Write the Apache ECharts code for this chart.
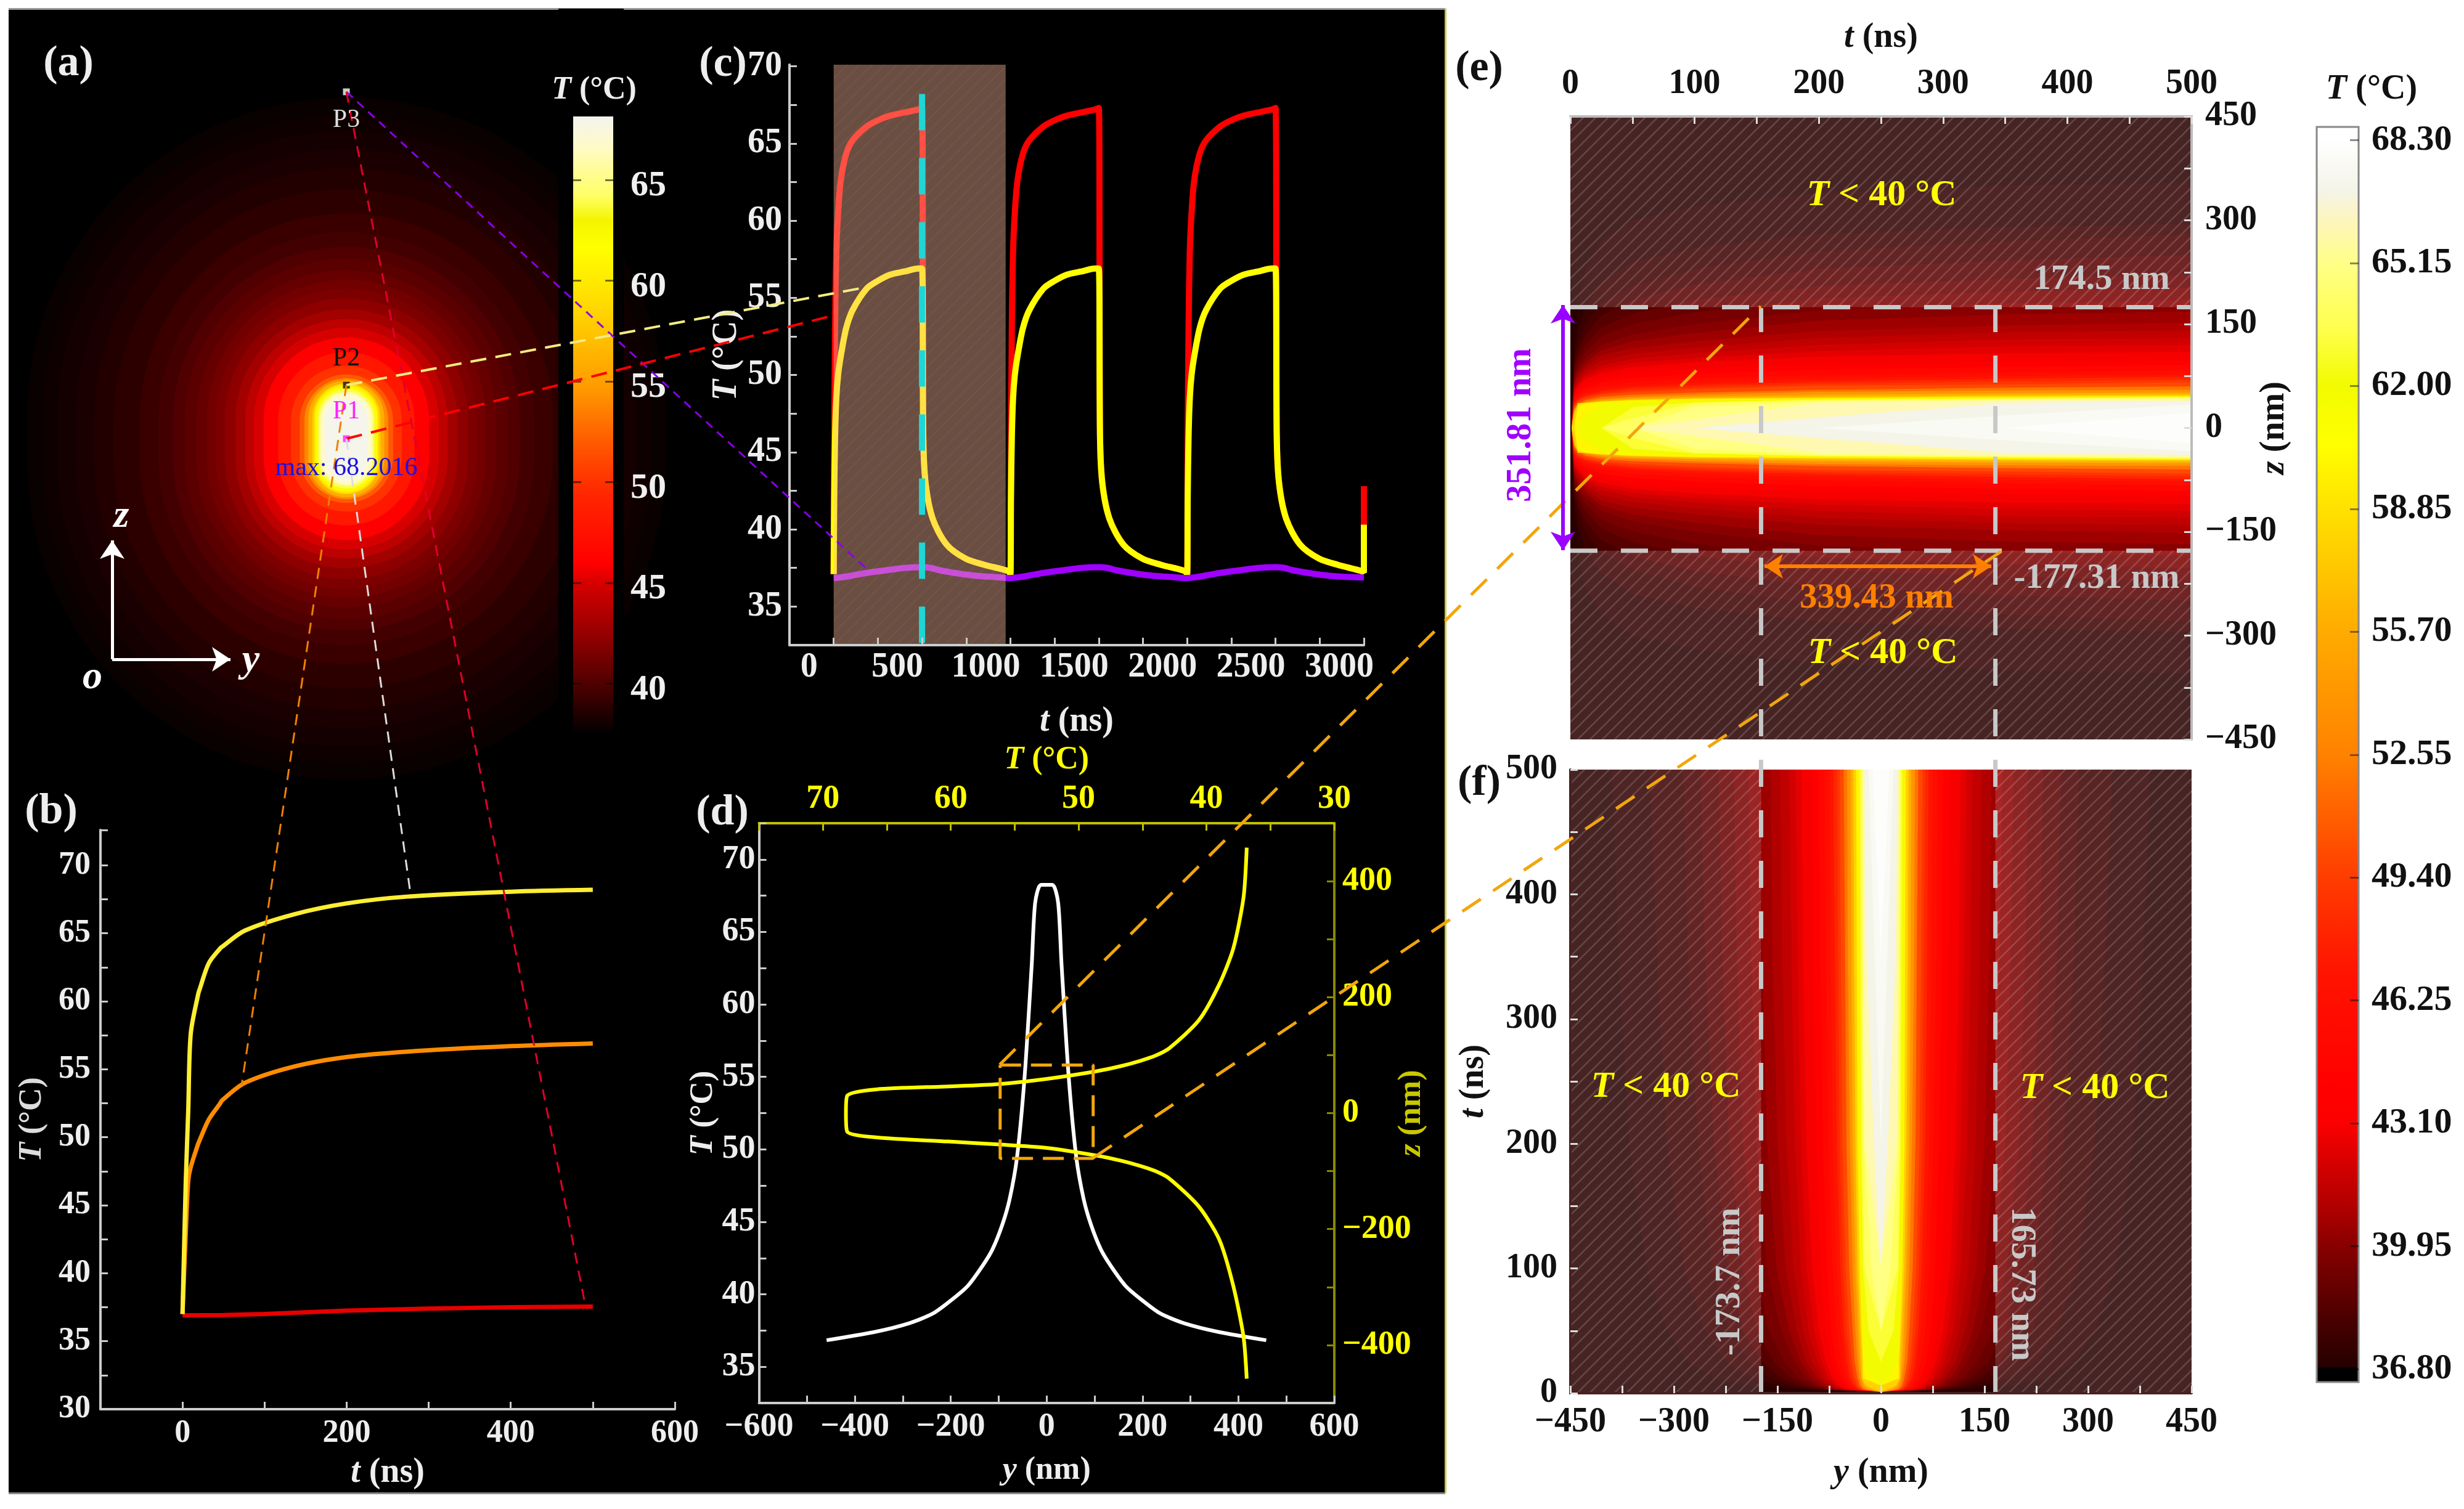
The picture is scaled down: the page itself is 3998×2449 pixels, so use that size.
<!DOCTYPE html>
<html><head><meta charset="utf-8">
<style>html,body{margin:0;padding:0;background:#fff}#c{width:3998px;height:2449px}</style>
<script src="https://cdn.jsdelivr.net/npm/echarts@6/dist/echarts.min.js"></script>
</head><body><div id="c"></div>
<script>
// ---------- DATA: panel (b)
const bTime   = [0,4,7,10,19,21,32,46,48,76,136,200,274,400,500];
const bYellow = [37,46.8,52,57.6,60.5,60.9,62.8,63.9,64.0,65.2,66.4,67.2,67.7,68.06,68.2];
const bOrange = [37,43,46.8,47.8,49.5,49.8,51.3,52.5,52.7,54,55.2,55.9,56.3,56.7,56.9];
const bRedT   = [0,50,100,200,300,400,500];
const bRed    = [36.9,36.92,37.0,37.25,37.4,37.5,37.55];
// ---------- DATA: panel (c), one 1000 ns cycle and its end
const cPulseT   = [0,3,8,15,25,40,70,107,187,250,320,400,480,500,507,520,560,640,747,853,987];
const cRedPulse = [37.1,45,53,58,60.5,62.6,64.3,65.2,66.1,66.5,66.8,67,67.2,67.3,46,43,40.7,39,38.1,37.7,37.3];
const cYelPulse = [37.1,42,46,48.5,50,51.2,53,54.2,55.6,56.1,56.5,56.7,56.9,56.9,46,43,40.7,39,38.1,37.7,37.3];
const cCycleStarts = [0,1000,2000];
const cEndRed = [37.2,42.8];
const cEndYel = [37.2,40.3];
const cPurpleT = [0,50,100,200,300,400,500,550,600,700,800,900];
const cPurple  = [36.85,36.9,37.0,37.2,37.35,37.5,37.55,37.5,37.35,37.15,37.0,36.92];
const cBandEnd = 973;
// ---------- DATA: panel (d)
const dY      = [-459,-359,-287,-236,-195,-164,-133,-113,-92,-77,-62,-46,-31,-24,-12,12,24,31,46,62,77,92,113,133,164,195,236,287,359,458];
const dWhiteT = [36.83,37.4,38,38.7,39.7,40.6,42,43.1,44.85,46.6,49.4,55,62.8,67,68.25,68.25,67,62.8,55,49.4,46.6,44.85,43.1,42,40.6,39.7,38.7,38,37.4,36.83];
const dYellowT= [36.85,37.1,37.9,39,40.6,42.9,44,45.2,46.7,48.65,52.5,56.3,60.2,65.8,68.1,68.2,68.1,65.8,60.2,56.3,52.5,48.65,46.7,45.2,44,42.9,40.6,39,37.9,37.1,36.85];
const dYellowZ= [458,372,284,222,160,112,99,90,81,72,59,50,46,41,30,0,-32,-42,-49,-54,-60,-73,-82,-91,-100,-113,-161,-218,-298,-386,-458];
const dBoxY = [-97,97,97,-97,-97];
const dBoxZ = [83,83,-78,-78,83];
// ---------- DATA: colour scales
const heatValues = [36.8,36.85,36.88,38.15,38.87,39.95,40.8,41.85,43.1,44,47,49.4,52.55,55.7,58.85,60.5,62,63.5,65.15,66.3,67,68.3];
const heatColors = ['#000000','#000000','#260000','#4b0000','#640000','#870000','#aa0000','#cd0000','#fa0000','#ff0000','#ff1400','#ff3c00','#ff8200','#ffab00','#ffe100','#ffff00','#f2fb00','#ffff50','#ffff88','#fdf5c0','#f4f4e8','#ffffff'];
const aHeatValues = [37.6,38.5,40,42.5,45,46,49.5,52,54.5,57,59.3,61.7,63,64.2,66.7,68.2];
const aHeatColors = ['#060000','#200000','#500000','#960000','#d70000','#ff0000','#ff2800','#ff5a00','#ff9600','#ffbe00','#ffe100','#ffff00','#f4f400','#ffff64','#fffac8','#f4f4f0'];
// ---------- DATA: panel (a), filled contours: level, half-width in y, half-height in z (nm)
const aLevels = [37.7,37.9,38.1,38.3,38.6,38.9,39.3,39.6,40,40.4,40.8,41.2,41.6,42.2,43,44,45,46,48,50,52,54,56,58,60,62,64,66,67,68];
const aHalfY  = [328,313,297,278,259,239,212,193,178,166,154,143,134,125,114,104,95,85,70,57,48,43,39,35,33,32,29,27,25,22];
const aHalfZ  = [350,332,316,297,278,256,231,212,197,185,173,163,154,144,133,123,114,104,89,75,66,62,60,57,56,54,51,48,46,41];
// ---------- DATA: panels (e), (f), filled contours: half-width at each time
const tStations = [3,6,12,25,50,100,200,350,500];
const efLevels  = [37.2,37.6,38,38.5,39,39.5,40,40.5,41,41.5,42,42.5,43,44,45,46,47,48,49,50,52,54,56,58,60,62,63,64,65,66,67,67.7,68.1];
const eHalfZ = [
[120,180,230,270,300,320,340,350,355],[105,140,175,210,240,260,280,290,295],[95,120,150,180,205,230,255,270,280],
[88,110,135,162,185,207,230,242,250],[80,100,120,145,165,185,205,215,222],[75,92,110,132,150,167,187,197,203],
[70,85,100,120,135,150,170,180,185],[66,80,94,112,125,137,155,164,168],[62,75,88,105,115,125,140,148,152],
[58,70,83,97,107,116,130,138,141],[55,65,78,90,100,108,120,128,130],[52,62,74,85,94,101,111,118,120],
[50,60,70,80,88,95,103,108,110],[45,55,63,72,80,86,92,96,98],
[42,50,58,66,72,78,84,88,91],[40,47,54,60,66,71,76,80,83],[37,44,50,56,61,66,71,75,78],
[35,42,47,53,58,62,67,71,74],[33,40,45,50,55,59,64,67,70],[31,38,43,48,52,56,61,63,66],
[28,35,40,45,48,51,55,58,60],[26,33,38,42,45,48,52,54,55],[24,32,36,40,43,45,48,50,51],
[20,36,36,38,41,43,45,47,48],[0,33,36,38,40,42,43,45,46],[0,0,20,34,37,39,42,44,45.5],
[0,0,0,0,30,37,41,43,45],[0,0,0,0,14,36,40,42,44],[0,0,0,0,0,30,39,41,43],
[0,0,0,0,0,12,36,40,42],[0,0,0,0,0,0,15,36,39],[0,0,0,0,0,0,0,18,34],[0,0,0,0,0,0,0,0,22]];
const fHalfY = [
[130,190,240,280,310,340,365,380,390],[110,150,185,225,255,285,310,325,335],[100,130,160,190,220,245,265,280,287],
[90,117,145,172,200,222,242,255,261],[82,105,130,155,180,200,220,230,235],[77,97,119,140,162,182,200,209,213],
[72,90,108,125,145,165,180,188,192],[67,84,100,116,133,151,165,172,176],[62,78,92,108,122,138,150,157,160],
[58,73,86,100,113,127,137,143,146],[55,68,80,92,105,116,125,130,133],[52,64,75,86,97,108,116,121,124],
[50,60,70,80,90,100,108,113,115],[45,55,63,72,80,88,94,98,100],
[42,50,57,65,72,78,84,88,90],[38,46,52,58,64,70,76,80,82],[35,42,48,53,58,64,70,73,75],
[33,39,45,49,54,59,64,67,69],[31,36,41,45,50,55,60,62,64],[29,34,38,42,46,51,56,58,60],
[26,31,34,38,41,46,50,52,54],[23,28,31,34,37,41,45,48,49],[18,25,28,31,33,37,41,43,44],
[10,22,28,28,30,34,37,39,40],[0,0,26,26,28,31,34,35,36],[0,0,15,24,26,29,31,32,32.5],
[0,0,0,0,18,26,29,30,31],[0,0,0,0,0,24,27,28,29],[0,0,0,0,0,14,25,26,27],
[0,0,0,0,0,0,23,25,26],[0,0,0,0,0,0,10,21,24],[0,0,0,0,0,0,0,9,18],[0,0,0,0,0,0,0,0,12]];
const eBoundZ = [174.5,-177.31];
const fBoundY = [-173.7,165.73];
// ---------- DATA: ticks
const aBarLabels = [40,45,50,55,60,65];
const bXTicks=[-100,0,100,200,300,400,500,600], bXLabels=[0,200,400,600];
const bYTicks=[30,32.5,35,37.5,40,42.5,45,47.5,50,52.5,55,57.5,60,62.5,65,67.5,70,72.6], bYLabels=[30,35,40,45,50,55,60,65,70];
const cXTicks=[0,250,500,750,1000,1250,1500,1750,2000,2250,2500,2750,3000], cXLabels=[0,500,1000,1500,2000,2500,3000];
const cYTicks=[32.5,35,37.5,40,42.5,45,47.5,50,52.5,55,57.5,60,62.5,65,67.5,70], cYLabels=[35,40,45,50,55,60,65,70];
const dXTicks=[-600,-500,-400,-300,-200,-100,0,100,200,300,400,500,600], dXLabels=[-600,-400,-200,0,200,400,600];
const dYTicks=[32.5,35,37.5,40,42.5,45,47.5,50,52.5,55,57.5,60,62.5,65,67.5,70,72.5], dYLabels=[35,40,45,50,55,60,65,70];
const dTopTicks=[30,35,40,45,50,55,60,65,70,75], dTopLabels=[30,40,50,60,70];
const dRightTicks=[-400,-300,-200,-100,0,100,200,300,400], dRightLabels=[-400,-200,0,200,400];
const eXTicks=[0,50,100,150,200,250,300,350,400,450,500], eXLabels=[0,100,200,300,400,500];
const eYTicks=[-450,-375,-300,-225,-150,-75,0,75,150,225,300,375,450], eYLabels=[-450,-300,-150,0,150,300,450];
const fYTicks=[0,50,100,150,200,250,300,350,400,450,500], fYLabels=[0,100,200,300,400,500];
const fXTicks=eYTicks, fXLabels=eYLabels;
const sideBarLabels=[36.8,39.95,43.1,46.25,49.4,52.55,55.7,58.85,62,65.15,68.3];

// ---------- layout and styles (page pixels)
const W=3998,H=2449, SERIF='Liberation Serif';
const BOX={
  map:{left:9,top:127,width:1106,height:1170},
  aBar:{left:930,top:189,width:65,height:999},
  b:{left:163,top:1347,width:932,height:940},
  c:{left:1281,top:105,width:932,height:942},
  d:{left:1231.5,top:1336,width:933.5,height:941},
  e:{left:2548,top:189,width:1008,height:1011},
  f:{left:2548,top:1249,width:1008,height:1012},
  side:{left:3759,top:206,width:68,height:2037}
};
const guideLines=[
 {c:[[562,149],[1406,923]],color:'#8a00e8',width:3,dash:[14,10]},
 {c:[[562,149],[950,2120]],color:'#e0002a',width:3,dash:[18,12]},
 {c:[[562,625],[1406,466]],color:'#f2ec80',width:4,dash:[26,15]},
 {c:[[562,712],[1352,512]],color:'#ff0000',width:4,dash:[26,15]},
 {c:[[562,625],[392,1762]],color:'#f08000',width:3,dash:[18,12]},
 {c:[[562,712],[665,1443]],color:'#dddddd',width:3,dash:[18,12]},
 {c:[[1622,1728],[2857,497]],color:'#f2a60c',width:5,dash:[36,24]},
 {c:[[1774,1879],[3247,895]],color:'#f2a60c',width:5,dash:[36,24]}
];
const arrowLines=[
 {c:[[182,1070],[182,877]],color:'#fff',width:5},
 {c:[[182,1070],[374,1070]],color:'#fff',width:5},
 {c:[[2536,680],[2536,495]],color:'#9900ff',width:6},
 {c:[[2536,680],[2536,893]],color:'#9900ff',width:6},
 {c:[[3045,919],[3231,919]],color:'#ff8000',width:6},
 {c:[[3045,919],[2863,919]],color:'#ff8000',width:6}
];

// ---------- helpers
function makeHeat(vals,cols){
  const p=h=>[1,3,5].map(k=>parseInt(h.substr(k,2),16));
  return T=>{
    let i=0; while(i<vals.length-2 && T>vals[i+1]) i++;
    const f=Math.max(0,Math.min(1,(T-vals[i])/(vals[i+1]-vals[i])));
    const a=p(cols[i]),b=p(cols[i+1]);
    return 'rgb('+a.map((v,k)=>Math.round(v+(b[k]-v)*f)).join(',')+')';
  };
}
const heat=makeHeat(heatValues,heatColors), aHeat=makeHeat(aHeatValues,aHeatColors);
function hatch(fill,line,n){
  const cv=document.createElement('canvas');cv.width=cv.height=n;
  const x=cv.getContext('2d');
  x.fillStyle=fill;x.fillRect(0,0,n,n);
  x.strokeStyle='rgba(255,255,255,'+line+')';x.lineWidth=2.5;
  x.beginPath();x.moveTo(-2,n+2);x.lineTo(n+2,-2);x.moveTo(-2,2);x.lineTo(2,-2);x.moveTo(n-2,n+2);x.lineTo(n+2,n-2);x.stroke();
  return {image:cv,repeat:'repeat'};
}
const grids=[],xAxes=[],yAxes=[],series=[];
function grid(b){grids.push(Object.assign({show:false,containLabel:false},b));return grids.length-1;}
function nameTS(color,fs){
  const base={color,fontFamily:SERIF,fontWeight:'bold',fontSize:fs};
  return Object.assign({},base,{rich:{i:Object.assign({},base,{fontStyle:'italic'})}});
}
const fmtNum=v=>String(v).replace('-','\u2212');
function axis(list,g,o){
  const a={type:'value',gridIndex:g,min:o.min,max:o.max,position:o.pos,inverse:!!o.inverse,z:5,
    splitLine:{show:false},
    axisLine:{show:o.line!==false,onZero:false,lineStyle:{color:o.lineColor||'#ccc',width:o.lineWidth||4}},
    axisTick:{show:!!o.ticks,inside:true,length:o.tickLen||12,customValues:o.ticks,lineStyle:{color:o.tickColor||o.lineColor||'#ccc',width:3}},
    axisLabel:{show:!!o.labels,customValues:o.labels,margin:o.margin==null?12:o.margin,color:o.color||'#eee',fontFamily:SERIF,fontWeight:'bold',fontSize:o.fs||54,
      formatter:o.fmt||fmtNum,padding:o.padding||0,hideOverlap:false,rich:o.rich}};
  if(o.name){a.name=o.name;a.nameLocation='middle';a.nameGap=o.nameGap;a.nameTextStyle=nameTS(o.nameColor||o.color||'#eee',o.nameFs||56);if(o.nameRotate!=null)a.nameRotate=o.nameRotate;if(o.nameFree)a.nameMoveOverlap=false;}
  if(o.hidden){a.show=false;}
  list.push(a);return list.length-1;
}
function hiddenAxes(g,xr,yr,inv){
  return {x:axis(xAxes,g,{min:xr[0],max:xr[1],pos:'bottom',hidden:true}),y:axis(yAxes,g,{min:yr[0],max:yr[1],pos:'left',hidden:true,inverse:inv})};
}
function line(ax,ay,xs,ys,color,width,extra){
  series.push(Object.assign({type:'line',xAxisIndex:ax,yAxisIndex:ay,data:xs.map((v,i)=>[v,ys[i]]),showSymbol:false,symbol:'none',silent:true,
    lineStyle:{color,width},z:2,animation:false},extra||{}));
}
function rects(ax,ay,data,fill,z,stroke){
  series.push({type:'custom',xAxisIndex:ax,yAxisIndex:ay,data,z,silent:true,animation:false,clip:false,
    encode:{x:[0,1],y:[2,3]},
    renderItem:(p,api)=>{
      const a=api.coord([api.value(0),api.value(2)]),b=api.coord([api.value(1),api.value(3)]);
      const style={fill}; if(stroke){style.stroke=stroke;style.lineWidth=3;}
      return {type:'rect',shape:{x:Math.min(a[0],b[0]),y:Math.min(a[1],b[1]),width:Math.abs(a[0]-b[0]),height:Math.abs(a[1]-b[1])},style};
    }});
}
function contourBand(levels,table,toPoint,ax,ay){
  series.push({type:'custom',xAxisIndex:ax,yAxisIndex:ay,data:levels.map((T,i)=>[i,T]),z:1,silent:true,animation:false,clip:true,
    encode:{x:[],y:[]},
    renderItem:(p,api)=>{
      const i=api.value(0),row=table[i],up=[],dn=[];
      let first=row.findIndex(v=>v>0);
      const tip=first>0?tStations[first-1]:1;
      for(let k=first;k<row.length;k++){up.push(toPoint(tStations[k],row[k]));dn.unshift(toPoint(tStations[k],-row[k]));}
      const pts=[toPoint(tip,0)].concat(up,dn).map(q=>api.coord(q));
      return {type:'polygon',shape:{points:pts},style:{fill:heat(levels[i])}};
    }});
}
function gradientFor(lo,hi,fn,vals){
  const stops=[{offset:0,color:fn(lo)}];
  vals.forEach(v=>{if(v>lo&&v<hi)stops.push({offset:(v-lo)/(hi-lo),color:fn(v)});});
  stops.push({offset:1,color:fn(hi)});
  return {type:'linear',x:0,y:1,x2:0,y2:0,colorStops:stops};
}

// ---------- overlay grid in page pixels, for the backdrop and leader annotations
const gPx=grid({left:0,top:0,width:W,height:H});
const px=hiddenAxes(gPx,[0,W],[0,H],true);
function pxRect(box,z){
  series.push({type:'custom',xAxisIndex:px.x,yAxisIndex:px.y,data:[box],z,silent:true,animation:false,clip:false,
    encode:{x:[0,2],y:[1,3]},
    renderItem:(p,api)=>{const a=api.coord([api.value(0),api.value(1)]),b=api.coord([api.value(2),api.value(3)]);
      return {type:'rect',shape:{x:a[0],y:a[1],width:b[0]-a[0],height:b[1]-a[1]},style:{fill:'#000'}};}});
}
pxRect([14,14,2345,2423],-1);
series.push({type:'lines',coordinateSystem:'cartesian2d',xAxisIndex:px.x,yAxisIndex:px.y,z:6,silent:true,animation:false,symbol:'none',
  data:guideLines.map(l=>({coords:l.c,lineStyle:{color:l.color,width:l.width,type:l.dash,opacity:1,curveness:0}}))});
series.push({type:'lines',coordinateSystem:'cartesian2d',xAxisIndex:px.x,yAxisIndex:px.y,z:7,silent:true,animation:false,symbol:['none','arrow'],symbolSize:30,
  data:arrowLines.map(l=>({coords:l.c,lineStyle:{color:l.color,width:l.width,type:'solid',opacity:1,curveness:0}}))});
series.push({type:'lines',coordinateSystem:'cartesian2d',xAxisIndex:px.x,yAxisIndex:px.y,z:0,silent:true,animation:false,symbol:'none',
  data:[{coords:[[14,14],[2345,14]],lineStyle:{color:'#999',width:3,opacity:1,curveness:0}},
        {coords:[[14,2423],[2345,2423]],lineStyle:{color:'#888',width:3,opacity:1,curveness:0}},
        {coords:[[2345,14],[2345,2423]],lineStyle:{color:'#c8c840',width:3,opacity:1,curveness:0}}]});

// ---------- (a) contour map
const gMap=grid(BOX.map), mapAx=hiddenAxes(gMap,[-350,350],[-370,370]);
series.push({type:'custom',xAxisIndex:mapAx.x,yAxisIndex:mapAx.y,data:aLevels.map((T,i)=>[aHalfY[i],aHalfZ[i],T]),z:-0.5,silent:true,animation:false,clip:false,
  encode:{x:[0],y:[1]},
  renderItem:(p,api)=>{
    const a=api.coord([-api.value(0),api.value(1)]),b=api.coord([api.value(0),-api.value(1)]);
    const w=b[0]-a[0],h=b[1]-a[1];
    return {type:'rect',shape:{x:a[0],y:a[1],width:w,height:h,r:Math.min(w,h)/2},style:{fill:aHeat(api.value(2))}};
  }});
pxRect([906,14,1012,1300],0);   // black strip behind the small colour bar

const gABar=grid(BOX.aBar);
const aBx=axis(xAxes,gABar,{min:0,max:1,pos:'bottom',hidden:true});
const aBarRich={a:{color:'#f0f0f0',fontFamily:SERIF,fontWeight:'bold',fontSize:58,padding:[20,0,0,0]}};
const aBy=axis(yAxes,gABar,{min:37.6,max:68.16,pos:'right',line:false,ticks:aBarLabels,labels:aBarLabels,tickColor:'rgba(0,0,0,0.55)',tickLen:13,margin:28,fs:58,color:'#f0f0f0',fmt:v=>'{a|'+v+'}',rich:aBarRich});
axis(yAxes,gABar,{min:37.6,max:68.16,pos:'left',line:false,ticks:aBarLabels,tickColor:'rgba(0,0,0,0.55)',tickLen:13});
rects(aBx,aBy,[[0,1,37.6,68.16]],gradientFor(37.6,68.16,aHeat,aHeatValues),2);

// ---------- (b)
const SMOOTH={smooth:0.3};
const gB=grid(BOX.b);
const bx=axis(xAxes,gB,{min:-100,max:600,pos:'bottom',ticks:bXTicks,labels:bXLabels,fs:52,margin:14,name:'{i|t} (ns)',nameGap:76});
const by=axis(yAxes,gB,{min:30,max:72.6,pos:'left',ticks:bYTicks,labels:bYLabels,fs:52,margin:16,name:'{i|T} (\u00b0C)',nameGap:84,nameFs:52,nameColor:'#ddd'});
line(bx,by,bRedT,bRed,'#e60000',7);
line(bx,by,bTime,bOrange,'#ff8c00',7,SMOOTH);
line(bx,by,bTime,bYellow,'#ffee33',7,SMOOTH);

// ---------- (c)
const cTimes=[],cRed=[],cYel=[];
cCycleStarts.forEach(s=>cPulseT.forEach((t,i)=>{cTimes.push(s+t);cRed.push(cRedPulse[i]);cYel.push(cYelPulse[i]);}));
const pTimes=[],pVals=[];
cCycleStarts.forEach(s=>cPurpleT.forEach((t,i)=>{pTimes.push(s+t);pVals.push(cPurple[i]);}));
pTimes.push(3000);pVals.push(36.88);
const gC=grid(BOX.c);
const cx=axis(xAxes,gC,{min:-250,max:3000,pos:'bottom',ticks:cXTicks,labels:cXLabels,fs:56,margin:9,padding:[0,80,0,0],name:'{i|t} (ns)',nameGap:97});
const cy=axis(yAxes,gC,{min:32.5,max:70.1,pos:'left',ticks:cYTicks,labels:cYLabels,fs:56,margin:12,name:'{i|T} (\u00b0C)',nameGap:73});
line(cx,cy,cTimes.concat([3000,3000]),cRed.concat(cEndRed),'#ff0000',10,SMOOTH);
line(cx,cy,cTimes.concat([3000,3000]),cYel.concat(cEndYel),'#ffff00',10,SMOOTH);
line(cx,cy,pTimes,pVals,'#a000ff',10,{smooth:0.4});
rects(cx,cy,[[0,cBandEnd,32.5,70.1]],hatch('rgba(255,186,157,0.42)',0.04,20),3);
line(cx,cy,[500,500],[68.2,32.5],'#1fd6d6',10,{z:4,lineStyle:{color:'#1fd6d6',width:10,type:[59,45]}});

// ---------- (d)
const gD=grid(BOX.d);
const OLIVE='#8a8a00',YEL='#ffff00';
const dx=axis(xAxes,gD,{min:-600,max:600,pos:'bottom',ticks:dXTicks,labels:dXLabels,fs:54,margin:12,name:'{i|y} (nm)',nameGap:84,nameFs:52});
const dxTop=axis(xAxes,gD,{min:30,max:75,pos:'top',inverse:true,ticks:dTopTicks,labels:dTopLabels,fs:54,margin:12,color:YEL,lineColor:'#c0c000',name:'{i|T} (\u00b0C)',nameGap:76,nameFs:52});
const dy=axis(yAxes,gD,{min:32.5,max:72.5,pos:'left',ticks:dYTicks,labels:dYLabels,fs:54,margin:6,name:'{i|T} (\u00b0C)',nameGap:64,nameFs:52});
const dyR=axis(yAxes,gD,{min:-500,max:500,pos:'right',ticks:dRightTicks,labels:dRightLabels,fs:54,margin:13,color:YEL,lineColor:OLIVE,name:'{i|z} (nm)',nameGap:100,nameRotate:90,nameFs:52,nameColor:'#c8c800',nameFree:true});
line(dx,dy,dY,dWhiteT,'#ffffff',6,{smooth:0.25});
line(dxTop,dyR,dYellowT,dYellowZ,'#ffff00',6,{smooth:0.25});
line(dx,dyR,dBoxY,dBoxZ,'#f2a60c',5,{lineStyle:{color:'#f2a60c',width:5,type:[34,16]}});

// ---------- (e)
const OUTSIDE=()=>hatch('rgba(255,240,240,0.15)',0.16,20);
const gE=grid(BOX.e);
const ex=axis(xAxes,gE,{min:0,max:500,pos:'top',ticks:eXTicks,labels:eXLabels,fs:56,margin:24,color:'#111',lineColor:'#bbb',tickColor:'#ddd',name:'{i|t} (ns)',nameGap:99,nameColor:'#111'});
const ey=axis(yAxes,gE,{min:-450,max:450,pos:'right',ticks:eYTicks,labels:eYLabels,fs:56,margin:22,color:'#111',lineColor:'#bbb',tickColor:'#ddd',name:'{i|z} (nm)',nameGap:107,nameRotate:90,nameColor:'#111',nameFree:true});
rects(ex,ey,[[0,500,-450,450]],heat(36.9),0.5);
contourBand(efLevels,eHalfZ,(t,w)=>[t,w],ex,ey);
rects(ex,ey,[[0,500,eBoundZ[0],450],[0,500,-450,eBoundZ[1]]],OUTSIDE(),2);
const GREYDASH={color:'#c8c8c8',width:7,type:[44,38]};
eBoundZ.forEach(z=>line(ex,ey,[0,500],[z,z],'#c8c8c8',7,{z:3,lineStyle:GREYDASH}));

// ---------- (f)
const gF=grid(BOX.f);
const fx=axis(xAxes,gF,{min:-450,max:450,pos:'bottom',ticks:fXTicks,labels:fXLabels,fs:56,margin:20,color:'#111',lineColor:'#4a2020',tickColor:'#ddd',name:'{i|y} (nm)',nameGap:102,nameColor:'#111'});
const fy=axis(yAxes,gF,{min:0,max:500,pos:'left',ticks:fYTicks,labels:fYLabels,fs:56,margin:21,color:'#111',lineColor:'#4a2020',tickColor:'#ddd',name:'{i|t} (ns)',nameGap:128,nameColor:'#111'});
rects(fx,fy,[[-450,450,0,500]],heat(36.9),0.5);
contourBand(efLevels,fHalfY,(t,w)=>[w,t],fx,fy);
rects(fx,fy,[[-450,fBoundY[0],0,500],[fBoundY[1],450,0,500]],OUTSIDE(),2);
fBoundY.forEach(y=>line(fx,fy,[y,y],[0,870],'#c8c8c8',7,{z:3,clip:false,lineStyle:GREYDASH}));

// ---------- side colour bar
const gSide=grid(BOX.side);
const sx=axis(xAxes,gSide,{min:0,max:1,pos:'bottom',hidden:true});
const sy=axis(yAxes,gSide,{min:36.47,max:68.64,pos:'right',line:false,ticks:sideBarLabels,labels:sideBarLabels,tickColor:'rgba(0,0,0,0.45)',tickLen:14,margin:21,fs:58,color:'#111',fmt:v=>Number(v).toFixed(2)});
rects(sx,sy,[[0,1,36.47,68.64]],gradientFor(36.47,68.64,heat,heatValues),2,'#888');

// ---------- free text
function txt(x,y,text,o){
  const fs=o.fs||57,base={fontFamily:SERIF,fontWeight:o.weight||'bold',fontSize:fs,fill:o.color};
  return {type:'text',x,y,rotation:o.rot||0,z:100,silent:true,
    style:Object.assign({},base,{text,align:'center',verticalAlign:'middle',
      rich:{i:Object.assign({},base,{fontStyle:'italic'}),n:base}})};
}
const ltT='{i|T}{n| < 40 \u00b0C}';
const TITLE='{i|T}{n| (\u00b0C)}';
const texts=[
 txt(111,104,'(a)',{fs:70,color:'#eee'}),txt(83,1318,'(b)',{fs:70,color:'#eee'}),txt(1173,105,'(c)',{fs:70,color:'#eee'}),
 txt(1172,1320,'(d)',{fs:70,color:'#eee'}),txt(2400,112,'(e)',{fs:70,color:'#111'}),txt(2400,1272,'(f)',{fs:70,color:'#111'}),
 txt(964,147,TITLE,{fs:52,color:'#eee'}),txt(3848,146,TITLE,{fs:56,color:'#111'}),
 txt(562,195,'P3',{fs:42,color:'#ddd',weight:'normal'}),txt(562,582,'P2',{fs:42,color:'#111',weight:'normal'}),
 txt(562,668,'P1',{fs:42,color:'#ff22ff',weight:'normal'}),txt(562,760,'max: 68.2016',{fs:42,color:'#1a10e0',weight:'normal'}),
 txt(197,838,'{i|z}',{fs:64,color:'#fff'}),txt(407,1072,'{i|y}',{fs:64,color:'#fff'}),txt(150,1100,'{i|o}',{fs:64,color:'#fff'}),
 txt(3053,317,ltT,{fs:60,color:'#ffff00'}),txt(3055,1060,ltT,{fs:60,color:'#ffff00'}),
 txt(2703,1764,ltT,{fs:60,color:'#ffff00'}),txt(3399,1766,ltT,{fs:60,color:'#ffff00'}),
 txt(3410,454,'174.5 nm',{color:'#c8c8c8'}),txt(3402,939,'-177.31 nm',{color:'#c8c8c8'}),
 txt(3045,971,'339.43 nm',{color:'#ff8000'}),txt(2468,690,'351.81 nm',{color:'#a000ff',rot:Math.PI/2}),
 txt(2807,2080,'-173.7 nm',{color:'#c8c8c8',rot:Math.PI/2}),txt(3280,2084,'165.73 nm',{color:'#c8c8c8',rot:-Math.PI/2})
];
const pointMarkers=[{x:562,y:149,color:'#ffffff'},{x:562,y:625,color:'#111111'},{x:562,y:712,color:'#ff22ff'}];
series.push({type:'scatter',xAxisIndex:px.x,yAxisIndex:px.y,z:5,silent:true,animation:false,symbol:'rect',symbolSize:11,
  data:pointMarkers.map(m=>({value:[m.x,m.y],itemStyle:{color:m.color}}))});

const chart=echarts.init(document.getElementById('c'),null,{renderer:'canvas',width:W,height:H});
chart.setOption({animation:false,backgroundColor:'#ffffff',grid:grids,xAxis:xAxes,yAxis:yAxes,series,graphic:{elements:texts}});
</script></body></html>
